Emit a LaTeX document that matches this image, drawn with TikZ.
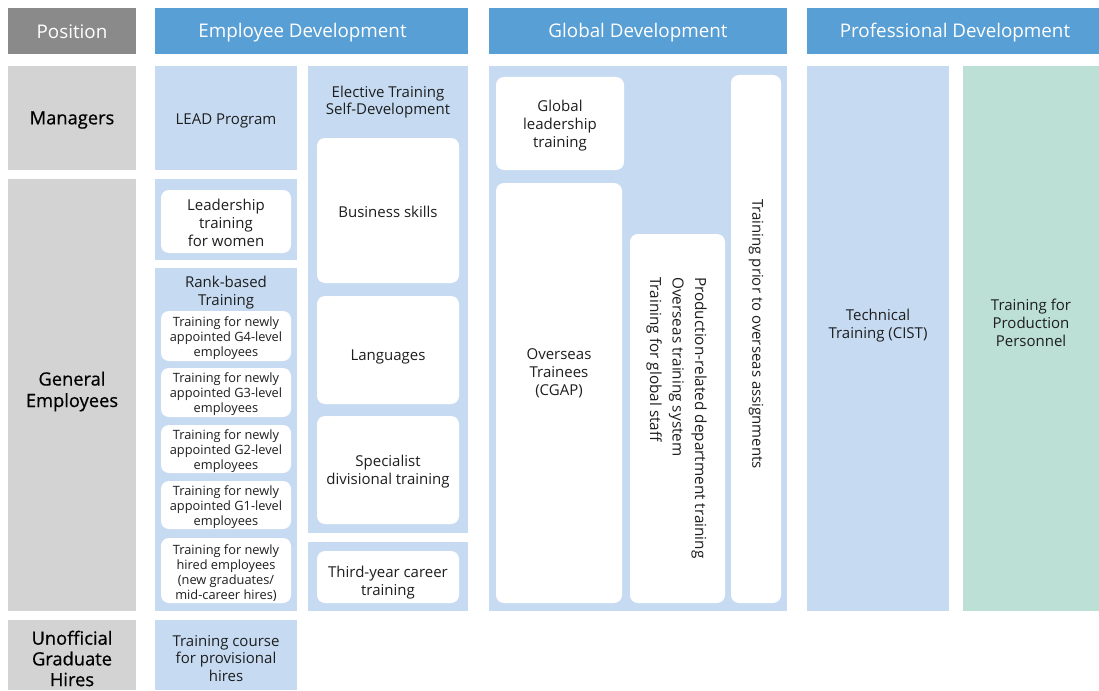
\documentclass[tikz,border=0pt]{standalone}
\usepackage{fontspec}
\setmainfont{Open Sans}
\newfontfamily\rowfont[FakeBold=0.6]{Open Sans}
\definecolor{hdr}{HTML}{589FD6}
\definecolor{posg}{HTML}{8A8A8A}
\definecolor{rowg}{HTML}{D3D3D3}
\definecolor{lb}{HTML}{C6DBF2}
\definecolor{grn}{HTML}{BCE0D6}
\definecolor{txt}{HTML}{1E1E1E}
\tikzset{
  rect/.style={anchor=north west, inner sep=0pt, outer sep=0pt, draw=none},
  hdrbox/.style={rect, fill=hdr, minimum height=46pt},
  rowbox/.style={rect, fill=rowg, minimum width=128pt},
  lbox/.style={rect, fill=lb},
  wbox/.style={rect, fill=white, rounded corners=8pt},
  hdrtxt/.style={inner sep=0pt, align=center, text=white, font=\fontsize{18.8}{22}\selectfont},
  rowtxt/.style={inner sep=0pt, align=center, text=black, font=\rowfont\fontsize{18.3}{21.5}\selectfont},
  lbl/.style={inner sep=0pt, align=center, text=txt, font=\fontsize{15}{18}\selectfont},
  slbl/.style={inner sep=0pt, align=center, text=txt, font=\fontsize{12.8}{15}\selectfont},
}
\begin{document}
\begin{tikzpicture}[x=1pt,y=-1pt]
\useasboundingbox (0,0) rectangle (1099,690);
% headers
\node[hdrbox, fill=posg, minimum width=128pt] (hpos) at (8,8) {};
\node[hdrtxt] (hpost) at (72,31.5) {Position};
\node[hdrbox, minimum width=313pt] (hemp) at (155,8) {};
\node[hdrtxt] (hempt) at (302.5,33) {Employee Development};
\node[hdrbox, minimum width=298pt] (hglob) at (489,8) {};
\node[hdrtxt] (hglobt) at (638,33) {Global Development};
\node[hdrbox, minimum width=292pt] (hprof) at (807,8) {};
\node[hdrtxt] (hproft) at (955,33) {Professional Development};
% row labels
\node[rowbox, minimum height=104pt] (rman) at (8,66) {};
\node[rowtxt] (rmant) at (72,120) {Managers};
\node[rowbox, minimum height=432pt] (rgen) at (8,179) {};
\node[rowtxt] (rgent) at (72,391.5) {General\\Employees};
\node[rowbox, minimum height=70pt] (runo) at (8,620) {};
\node[rowtxt, font=\rowfont\fontsize{18.3}{20.7}\selectfont] (runot) at (72,658.5) {Unofficial\\Graduate\\Hires};
% employee development
\node[lbox, minimum width=142pt, minimum height=104pt] (lead) at (155,66) {};
\node[lbl] (leadt) at (226,121) {LEAD Program};
\node[lbox, minimum width=142pt, minimum height=81pt] (womo) at (155,179) {};
\node[wbox, minimum width=130pt, minimum height=63pt] (wom) at (161,190) {};
\node[lbl] (womt) at (226,222.5) {Leadership\\training\\for women};
\node[lbox, minimum width=142pt, minimum height=343pt] (rank) at (155,268) {};
\node[lbl, anchor=north] (rankt) at (226,276) {Rank-based\\Training};
\node[wbox, minimum width=130pt, minimum height=50pt] (g4) at (161,311) {};
\node[slbl] (g4t) at (226,338) {Training for newly\\appointed G4-level\\employees};
\node[wbox, minimum width=130pt, minimum height=49pt] (g3) at (161,368) {};
\node[slbl] (g3t) at (226,394.5) {Training for newly\\appointed G3-level\\employees};
\node[wbox, minimum width=130pt, minimum height=48pt] (g2) at (161,425) {};
\node[slbl] (g2t) at (226,451) {Training for newly\\appointed G2-level\\employees};
\node[wbox, minimum width=130pt, minimum height=48pt] (g1) at (161,481) {};
\node[slbl] (g1t) at (226,507) {Training for newly\\appointed G1-level\\employees};
\node[wbox, minimum width=130pt, minimum height=65pt] (gn) at (161,538) {};
\node[slbl] (gnt) at (226,573.5) {Training for newly\\hired employees\\(new graduates/\\mid-career hires)};
\node[lbox, minimum width=142pt, minimum height=70pt] (prov) at (155,620) {};
\node[lbl, font=\fontsize{15}{17.5}\selectfont] (provt) at (226,658.5) {Training course\\for provisional\\hires};
\node[lbox, minimum width=160pt, minimum height=467pt] (elec) at (308,66) {};
\node[lbl, anchor=north, font=\fontsize{15}{16.5}\selectfont] (elect) at (388,86) {Elective Training\\Self-Development};
\node[wbox, minimum width=142pt, minimum height=145pt] (bus) at (317,138) {};
\node[lbl] (bust) at (388,211.5) {Business skills};
\node[wbox, minimum width=142pt, minimum height=108pt] (lang) at (317,296) {};
\node[lbl] (langt) at (388,357) {Languages};
\node[wbox, minimum width=142pt, minimum height=108pt] (spec) at (317,416) {};
\node[lbl] (spect) at (388,472) {Specialist\\divisional training};
\node[lbox, minimum width=160pt, minimum height=69pt] (thirdo) at (308,542) {};
\node[wbox, minimum width=142pt, minimum height=52pt] (third) at (317,551) {};
\node[lbl] (thirdt) at (388,583) {Third-year career\\training};
% global development
\node[lbox, minimum width=298pt, minimum height=545pt] (glob) at (489,66) {};
\node[wbox, minimum width=128pt, minimum height=93pt] (gl) at (496,77) {};
\node[lbl] (glt) at (560,125.5) {Global\\leadership\\training};
\node[wbox, minimum width=126pt, minimum height=420pt] (cgap) at (496,183) {};
\node[lbl] (cgapt) at (559,373) {Overseas\\Trainees\\(CGAP)};
\node[wbox, minimum width=95pt, minimum height=369pt] (prodb) at (630,234) {};
\node[lbl, align=left, font=\fontsize{15.3}{22.5}\selectfont, rotate=-90, anchor=west] (prodt) at (676.5,277) {Production-related department training\\Overseas training system\\Training for global staff};
\node[wbox, minimum width=50pt, minimum height=528pt] (prior) at (731,75) {};
\node[lbl, rotate=-90] (priort) at (756,334) {Training prior to overseas assignments};
% professional development
\node[lbox, minimum width=142pt, minimum height=545pt] (tech) at (807,66) {};
\node[lbl] (techt) at (878,325.5) {Technical\\Training (CIST)};
\node[rect, fill=grn, minimum width=136pt, minimum height=545pt] (prodp) at (963,66) {};
\node[lbl] (prodpt) at (1031,322.5) {Training for\\Production\\Personnel};
\end{tikzpicture}
\end{document}
